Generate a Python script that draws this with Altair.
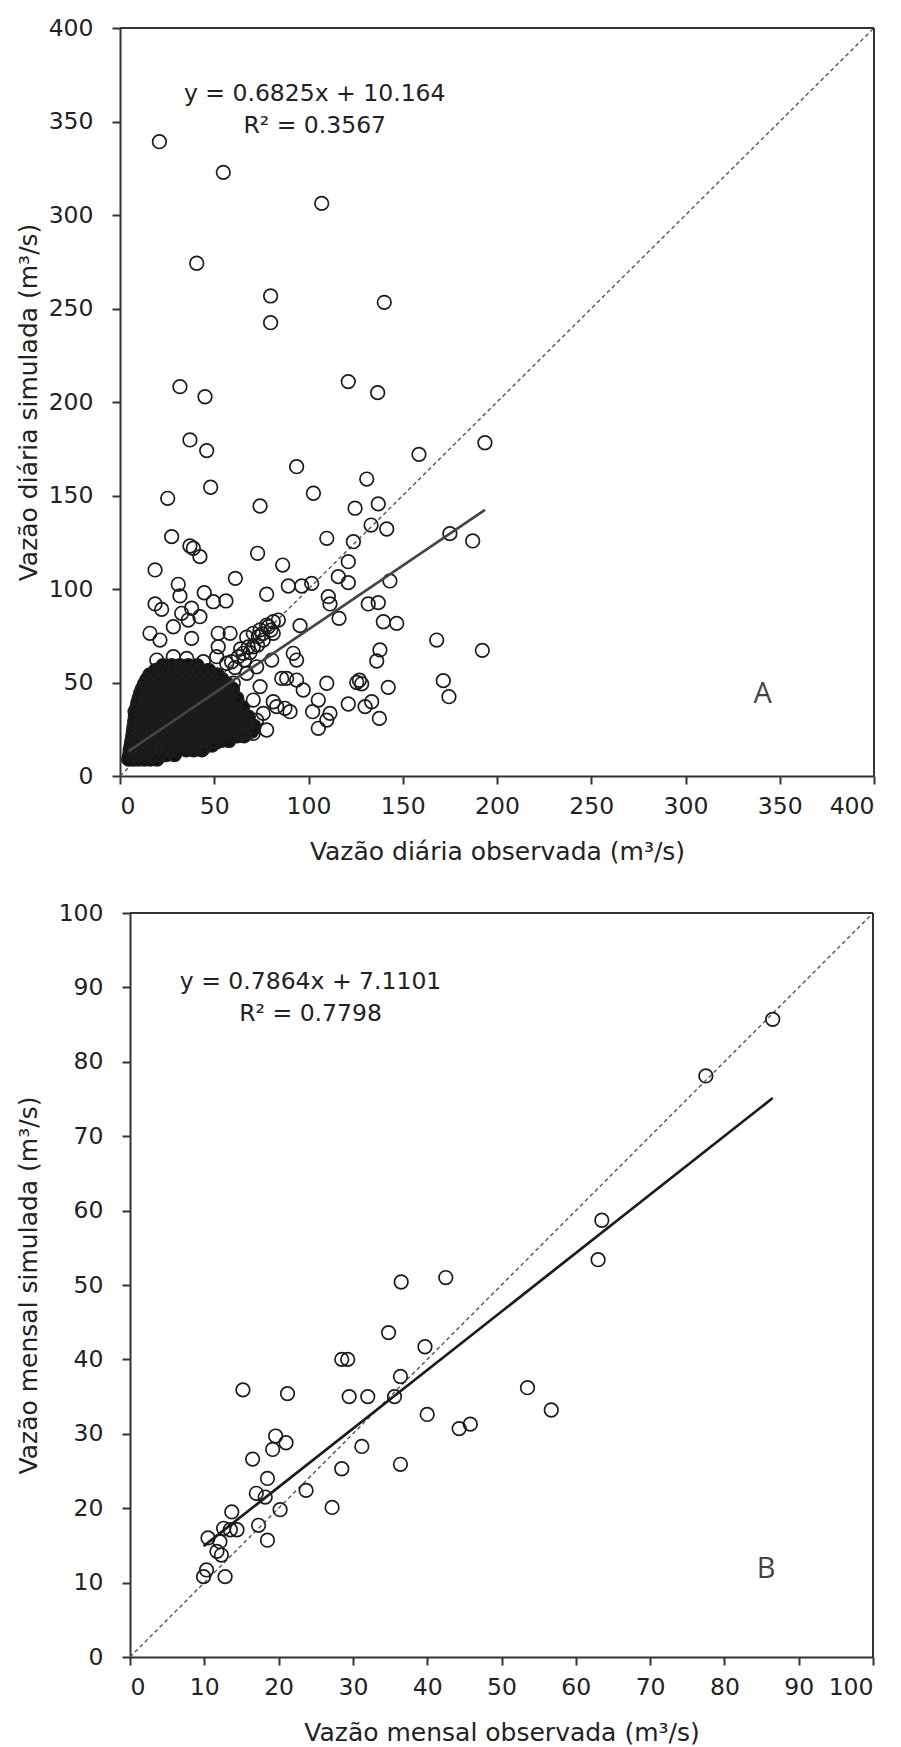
import altair as alt
import pandas as pd

# ---------------- Panel A: daily flows ----------------
daily_ticks = [0, 50, 100, 150, 200, 250, 300, 350, 400]
daily_fit = [0.6825, 10.164]
daily_eq = ["y = 0.6825x + 10.164", "R² = 0.3567"]

daily_high_obs = [20.9, 54.8, 107.0, 40.7, 79.9, 79.9, 140.2, 31.8, 45.1, 121.1, 136.7, 37.1, 46.0, 158.6, 93.7,
                  48.1, 102.6, 130.9, 25.3, 74.3, 124.7, 137.0, 133.2, 141.5, 27.4, 109.7, 123.8, 37.1, 38.9, 42.4,
                  73.0, 18.6, 86.3, 121.1, 61.2, 143.2, 30.9, 89.3, 96.4, 101.7, 115.8, 121.1, 193.6, 175.0, 187.1]
daily_high_sim = [339.2, 322.8, 306.2, 274.2, 256.7, 242.4, 253.3, 208.2, 202.8, 210.9, 205.0, 179.7, 174.0, 172.0, 165.4,
                  154.4, 151.2, 158.8, 148.5, 144.4, 143.2, 145.5, 134.2, 132.1, 128.0, 127.1, 125.3, 123.0, 121.8, 117.3,
                  119.1, 110.2, 112.8, 114.6, 105.7, 104.3, 102.5, 101.6, 101.6, 103.0, 106.6, 103.4, 178.2, 129.6, 125.7]

daily_mid_obs = [44.7, 77.8, 31.8, 110.5, 111.4, 18.6, 22.1, 131.7, 137.0, 38.0, 49.5, 56.2, 116.2, 139.7, 146.8,
                 95.5, 168.0, 137.9, 136.2, 91.9, 93.7, 171.5, 174.5, 142.3, 125.6, 127.0, 128.2, 109.7, 121.1, 130.0,
                 133.5, 137.6, 105.2, 109.7, 111.4, 102.2, 97.2, 83.1, 90.2, 88.4, 93.7, 192.2, 105.2]
daily_mid_sim = [98.0, 97.2, 96.3, 95.9, 92.0, 92.0, 89.1, 92.0, 92.7, 89.7, 93.2, 93.6, 84.3, 82.5, 81.6,
                 80.4, 72.7, 67.4, 61.5, 65.6, 62.0, 51.0, 42.4, 47.4, 50.0, 51.2, 49.3, 49.6, 38.5, 37.1,
                 39.7, 30.8, 25.5, 29.9, 33.5, 34.4, 46.0, 37.1, 34.4, 52.2, 51.3, 67.2, 40.6]

daily_fringe_obs = [15.9, 21.2, 28.3, 38.0, 32.7, 36.2, 42.4, 52.1, 58.4, 52.1, 14.2, 8.0, 19.5, 28.3, 35.4,
                    44.2, 51.3, 56.6, 60.1, 67.2, 72.5, 74.3, 70.7, 76.0, 72.5, 77.8, 70.7, 65.4, 81.3, 87.5,
                    85.8, 80.5, 51.3, 44.2, 35.4]
daily_fringe_sim = [76.3, 72.7, 79.8, 73.6, 87.0, 83.4, 85.2, 76.3, 76.3, 69.1, 50.4, 34.4, 62.0, 63.8, 62.9,
                    61.1, 63.8, 60.3, 49.6, 54.9, 58.4, 47.8, 40.6, 33.5, 29.9, 24.6, 22.8, 22.8, 39.7, 36.2,
                    52.2, 62.0, 18.3, 14.8, 15.7]

daily_chain_obs = [59.2, 62.8, 65.4, 68.0, 70.7, 67.2, 70.7, 73.4, 74.3, 76.0, 77.8, 78.7, 81.3, 84.0, 81.3,
                   73.0, 64.0, 61.0, 66.0, 69.0, 75.5, 80.0]
daily_chain_sim = [61.1, 63.8, 65.6, 69.0, 69.1, 74.2, 76.3, 74.5, 78.1, 72.7, 80.7, 79.8, 82.5, 83.4, 76.3,
                   70.0, 68.0, 58.0, 62.0, 66.0, 76.0, 78.0]

# dense core: simulated level of each row and the observed values along it
daily_core_sim = [9.0, 11.5, 14.0, 16.5, 19.0, 21.5, 24.0, 26.5, 29.0, 31.5, 34.0, 36.5, 39.0, 41.5,
                  44.0, 46.5, 49.0, 51.5, 54.0, 56.5, 59.0]
daily_core_obs = [
    [4.6, 7.2, 9.8, 12.9, 16.1, 19.6],
    [5.1, 7.9, 10.7, 13.8, 17.2, 20.8, 24.6, 28.9],
    [5.4, 8.3, 11.6, 15.2, 18.7, 22.9, 26.8, 30.7, 35.2, 39.1, 43.4],
    [5.9, 9.1, 12.3, 16.2, 19.8, 24.1, 27.7, 32.3, 36.1, 40.4, 44.2, 48.8],
    [6.3, 9.6, 13.2, 16.8, 21.1, 24.8, 29.3, 32.9, 37.2, 40.8, 45.3, 49.1, 53.6, 57.8],
    [6.8, 10.2, 13.7, 17.9, 21.8, 26.2, 29.9, 34.1, 38.3, 41.9, 46.2, 50.4, 54.1, 58.3, 62.2, 65.8],
    [7.1, 10.6, 14.6, 18.3, 22.7, 26.4, 30.8, 34.7, 38.2, 42.9, 46.4, 50.8, 54.6, 58.2, 62.7, 66.3, 69.9],
    [7.4, 11.1, 14.8, 19.2, 23.1, 27.3, 30.9, 35.4, 39.2, 43.3, 47.1, 51.2, 54.9, 59.3, 63.1, 67.2, 71.1],
    [7.8, 11.6, 15.7, 19.4, 23.8, 27.6, 31.7, 35.3, 39.8, 43.6, 47.7, 51.4, 55.8, 59.4, 63.6, 67.4],
    [8.1, 12.2, 15.9, 20.3, 24.1, 28.2, 32.1, 36.4, 40.2, 44.1, 48.3, 52.2, 56.1, 60.3, 64.2, 68.1],
    [8.6, 12.4, 16.7, 20.4, 24.8, 28.6, 32.7, 36.3, 40.7, 44.6, 48.4, 52.8, 56.4, 60.7, 64.6],
    [9.0, 13.1, 16.9, 21.2, 25.1, 29.3, 32.9, 37.1, 41.2, 44.9, 49.2, 53.1, 57.2, 61.1, 65.0],
    [9.4, 13.6, 17.6, 21.4, 25.7, 29.4, 33.8, 37.6, 41.5, 45.8, 49.6, 53.7, 57.4, 61.6],
    [10.1, 14.1, 18.2, 22.3, 26.1, 30.2, 34.1, 38.3, 42.2, 46.1, 50.3, 54.2, 58.1, 62.0],
    [10.9, 15.1, 18.8, 23.1, 26.9, 31.2, 34.8, 39.1, 42.9, 47.2, 50.9, 55.1, 59.0],
    [11.8, 16.2, 19.9, 24.2, 27.8, 32.1, 35.9, 40.2, 43.8, 48.1, 51.8, 56.2, 59.7],
    [12.9, 17.1, 20.8, 25.2, 28.9, 33.2, 36.8, 41.1, 44.9, 49.2, 52.9, 57.1],
    [14.3, 18.6, 22.4, 26.7, 30.4, 34.8, 38.3, 42.7, 46.3, 50.6, 54.2],
    [15.8, 20.2, 23.9, 28.1, 32.2, 35.9, 40.3, 43.8, 48.2, 51.7],
    [18.9, 23.2, 26.8, 31.1, 34.9, 39.2, 42.8, 47.1],
    [22.8, 27.4, 31.8, 36.2, 40.9],
]

# ---------------- Panel B: monthly flows ----------------
monthly_ticks = [0, 10, 20, 30, 40, 50, 60, 70, 80, 90, 100]
monthly_fit = [0.7864, 7.1101]
monthly_eq = ["y = 0.7864x + 7.1101", "R² = 0.7798"]
monthly_obs = [9.9, 10.3, 12.8, 11.7, 12.3, 10.5, 12.1, 12.6, 13.5, 14.4, 13.7, 17.3, 18.5, 20.2, 17.0,
               18.2, 18.5, 23.7, 27.2, 16.5, 19.2, 19.6, 21.0, 15.2, 21.2, 28.5, 31.2, 28.5, 29.3, 29.5,
               32.0, 35.6, 36.4, 36.4, 34.8, 36.5, 42.5, 39.7, 40.0, 44.3, 45.8, 53.5, 56.7, 63.0, 63.5,
               77.5, 86.5]
monthly_sim = [10.8, 11.7, 10.8, 14.2, 13.7, 16.0, 15.5, 17.3, 17.1, 17.1, 19.5, 17.7, 15.7, 19.8, 22.0,
               21.5, 24.0, 22.4, 20.1, 26.6, 27.9, 29.7, 28.8, 35.9, 35.4, 25.3, 28.3, 40.0, 40.0, 35.0,
               35.0, 35.0, 37.7, 25.9, 43.6, 50.4, 51.0, 41.7, 32.6, 30.7, 31.3, 36.2, 33.2, 53.4, 58.7,
               78.1, 85.7]

# ---------------- build tables ----------------
core_obs, core_sim = [], []
for lvl, row in zip(daily_core_sim, daily_core_obs):
    core_obs += row
    core_sim += [lvl] * len(row)
a_obs = daily_high_obs + daily_mid_obs + daily_fringe_obs + daily_chain_obs + core_obs
a_sim = daily_high_sim + daily_mid_sim + daily_fringe_sim + daily_chain_sim + core_sim
dfA = pd.DataFrame({"obs": a_obs, "sim": a_sim})
dfA_core = pd.DataFrame({"obs": core_obs, "sim": core_sim})
dfB = pd.DataFrame({"obs": monthly_obs, "sim": monthly_sim})


def fit_line(xs, fit):
    lo, hi = min(xs), max(xs)
    return pd.DataFrame({"obs": [lo, hi], "sim": [fit[0] * lo + fit[1], fit[0] * hi + fit[1]]})


FONT = "DejaVu Sans"
INK = "#333333"


def panel(df, core, ticks, fit, eq, letter, xtitle, ytitle, w, h, shift, ytitlepad,
          eq_pos, letter_pos, trend_color):
    lo, hi = ticks[0], ticks[-1]
    dom = [lo, hi]
    yaxis_kw = dict(values=ticks, title=ytitle, labelPadding=19, titlePadding=ytitlepad, tickSize=8)
    if shift:
        yaxis_kw["offset"] = -shift
    x = alt.X("obs:Q", scale=alt.Scale(domain=dom, nice=False, zero=False, range=[shift, w]),
              axis=alt.Axis(values=ticks, title=xtitle, labelPadding=10, titlePadding=22, tickSize=8))
    y = alt.Y("sim:Q", scale=alt.Scale(domain=dom, nice=False, zero=False), axis=alt.Axis(**yaxis_kw))

    frame_top = alt.Chart(pd.DataFrame({"obs": [lo], "obs2": [hi], "sim": [hi]})).mark_rule(
        color=INK, strokeWidth=2).encode(x=x, x2=alt.X2("obs2"), y=y)
    frame_right = alt.Chart(pd.DataFrame({"obs": [hi], "sim": [lo], "sim2": [hi]})).mark_rule(
        color=INK, strokeWidth=2).encode(x=x, y=y, y2=alt.Y2("sim2"))
    ident = alt.Chart(pd.DataFrame({"obs": dom, "sim": dom})).mark_line(
        color="#555555", strokeWidth=1.4, strokeDash=[4, 3]).encode(x=x, y=y)
    layers = [ident]
    if core is not None:
        layers.append(alt.Chart(core).mark_point(
            shape="circle", filled=True, size=175, color="#111111", opacity=1, strokeWidth=0).encode(x=x, y=y))
    layers.append(alt.Chart(df).mark_point(
        shape="circle", filled=False, size=185, strokeWidth=1.7, color="#1c1c1c", opacity=1).encode(x=x, y=y))
    layers.append(alt.Chart(fit_line(df["obs"].tolist(), fit)).mark_line(
        color=trend_color, strokeWidth=2.7).encode(x=x, y=y))
    layers.append(alt.Chart(pd.DataFrame({"label": ["\n".join(eq)]})).mark_text(
        font=FONT, fontSize=23.5, color="#222222", align="center", baseline="middle",
        lineBreak="\n", lineHeight=32).encode(
        x=alt.datum(eq_pos[0]), y=alt.datum(eq_pos[1]), text="label:N"))
    layers.append(alt.Chart(pd.DataFrame({"label": [letter]})).mark_text(
        font="Open Sans", fontSize=29, color="#444444", align="center", baseline="middle").encode(
        x=alt.datum(letter_pos[0]), y=alt.datum(letter_pos[1]), text="label:N"))
    layers += [frame_top, frame_right]
    return alt.layer(*layers).properties(width=w, height=h)


chartA = panel(dfA, dfA_core, daily_ticks, daily_fit, daily_eq, "A",
               "Vazão diária observada (m³/s)", "Vazão diária simulada (m³/s)",
               754, 748, 0, 7, (103.3, 364.9), (341, 43.9), "#454545")
chartB = panel(dfB, None, monthly_ticks, monthly_fit, monthly_eq, "B",
               "Vazão mensal observada (m³/s)", "Vazão mensal simulada (m³/s)",
               753, 744, 10, 17, (24.3, 90.7), (85.6, 11.8), "#1a1a1a")

chart = alt.concat(chartA, chartB, columns=1, spacing=36).properties(
    padding={"left": 8, "top": 8, "right": 0, "bottom": 0}
).configure_axis(
    domainColor=INK, domainWidth=2, tickColor=INK, tickWidth=2,
    labelFont=FONT, labelFontSize=23.5, labelColor="#222222",
    titleFont=FONT, titleFontSize=25, titleFontWeight="normal", titleColor="#222222",
    grid=False
).configure_view(stroke=None)

chart.save("out.html", embed_options={"renderer": "svg", "actions": False})
